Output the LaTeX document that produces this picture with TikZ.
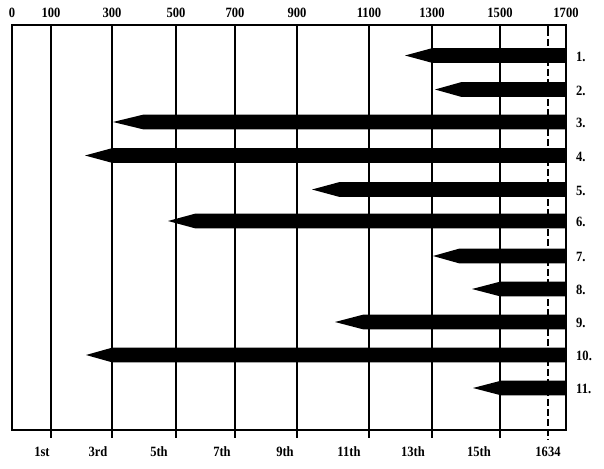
\documentclass[tikz,border=0pt]{standalone}
\usepackage{fontspec}
\setmainfont{Liberation Serif}
\newcommand{\tallish}[1]{\scalebox{0.93}[1.05]{#1}}
\begin{document}
\begin{tikzpicture}[x=1pt,y=-1pt,
  lbl/.style={font=\fontsize{13.5}{15}\selectfont\bfseries, inner sep=0pt},
  grid/.style={line width=1.7pt, black},
  pencil/.style={fill=black, draw=none}]
\useasboundingbox (0,0) rectangle (604,468);
% vertical lines
\foreach \x in {51,112,176,235,297,369,432,500} {
  \draw[grid] (\x,25) -- (\x,438);
}
\draw[line width=1.5pt] (548,25) -- (548,36);
\draw[line width=1.5pt, dash pattern=on 7pt off 3pt] (548,39) -- (548,440);
% frame
\draw[line width=1.8pt] (12,25) rectangle (566,430);
% top labels
\foreach \x/\t in {12/0,51/100,112/300,176/500,235/700,297/900,369/1100,432/1300,500/1500,566/1700} {
  \node[lbl] (top\t) at (\x,12.5) {\tallish{\t}};
}
% bottom labels
\foreach \x/\t [count=\i] in {42/1st,98/3rd,159/5th,222/7th,285/9th,349/11th,413/13th,479/15th,548/1634} {
  \node[lbl] (bot\i) at (\x,452) {\tallish{\t}};
}
% bars
\newcommand{\pencilbar}[4]{%
  \fill[pencil] (#2,#1) -- (#3,#1-7.3) -- (566,#1-7.3) -- (566,#1+7.3) -- (#3,#1+7.3) -- cycle;
  \node[lbl, anchor=west] (row#4) at (576,#1+1) {\tallish{#4.}};
}
\pencilbar{55.5}{405}{432}{1}
\pencilbar{89.5}{435}{461}{2}
\pencilbar{122}{113}{143}{3}
\pencilbar{155.5}{85}{112}{4}
\pencilbar{189.5}{312}{339}{5}
\pencilbar{221}{168}{195}{6}
\pencilbar{256}{433}{459}{7}
\pencilbar{289}{472}{500}{8}
\pencilbar{322}{335}{363}{9}
\pencilbar{355}{86}{112}{10}
\pencilbar{388}{473}{501}{11}
\end{tikzpicture}
\end{document}
